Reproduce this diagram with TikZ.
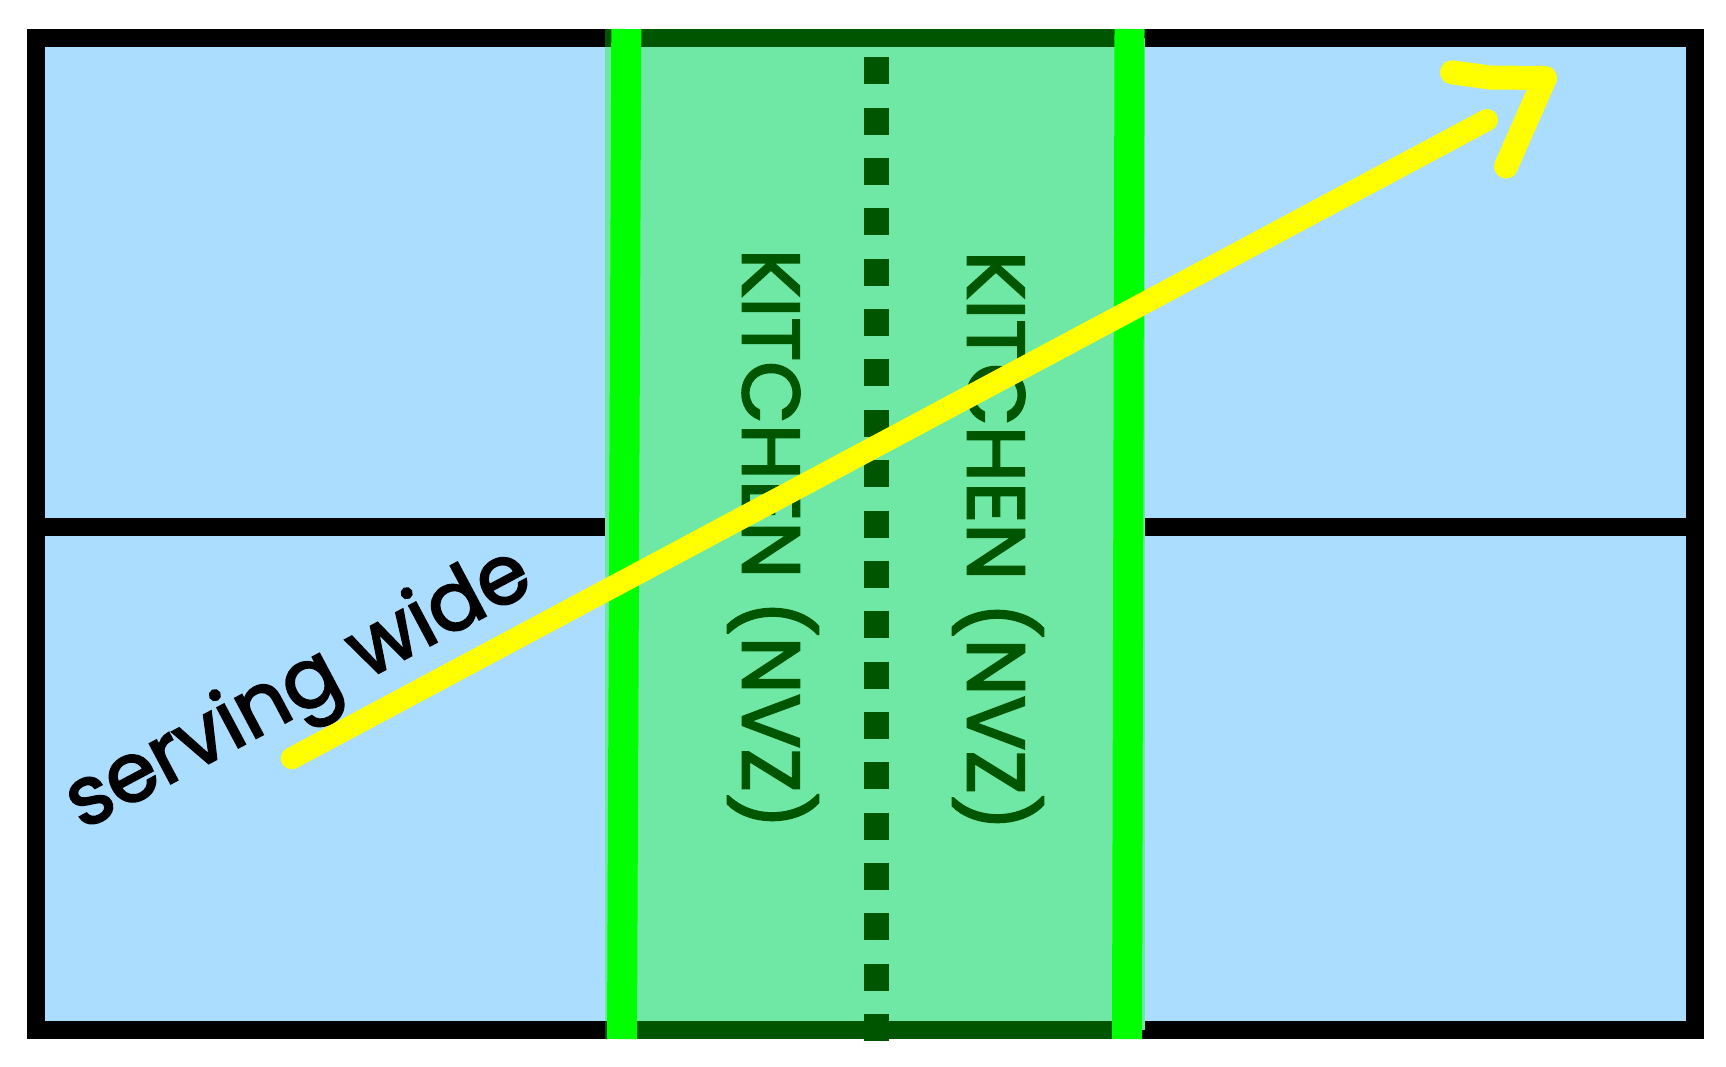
\documentclass[tikz,border=0pt]{standalone}
\usepackage{fontspec}
\setmainfont{Poppins}
\newfontfamily\labelfont{Poppins}[FakeBold=2.5]
\definecolor{courtblue}{RGB}{170,221,255}
\definecolor{kitchenfill}{RGB}{112,232,165}
\definecolor{kitchendark}{RGB}{0,85,0}
\definecolor{kitchenline}{RGB}{0,255,0}
\definecolor{serveyellow}{RGB}{255,255,0}
\tikzset{
  courtline/.style={line width=18pt, draw=black},
  kitchenband/.style={line width=18pt, draw=kitchendark},
  nvzline/.style={line width=30pt, draw=kitchenline},
  centerdash/.style={line width=25pt, draw=kitchendark, dash pattern=on 27pt off 23.35pt, dash phase=22pt},
  kitchentext/.style={text=kitchendark, inner sep=0pt, font=\labelfont\fontsize{81}{81}\selectfont},
  servetext/.style={text=black, inner sep=0pt, font=\labelfont\fontsize{82}{82}\selectfont},
  servearrow/.style={line width=22pt, draw=serveyellow, line cap=round, line join=round},
}
\begin{document}
\begin{tikzpicture}[x=1pt,y=-1pt]
\useasboundingbox (0,0) rectangle (1726,1066);
\fill[white] (0,0) rectangle (1726,1066);
% court
\draw[courtline, fill=courtblue] (36,38) rectangle (1695,1030);
\coordinate (midL) at (36,527);
\coordinate (midR) at (1695,527);
\draw[courtline] (midL) -- (midR);
% kitchen
\fill[kitchenfill] (605,38) rectangle (1145,1030);
\coordinate (dashTop) at (876.7,29);
\coordinate (dashBot) at (876.7,1041);
\draw[centerdash] (dashTop) -- (dashBot);
\coordinate (bandTL) at (605,38);
\coordinate (bandTR) at (1140,38);
\coordinate (bandBL) at (605,1030);
\coordinate (bandBR) at (1140,1030);
\draw[kitchenband] (bandTL) -- (bandTR);
\draw[kitchenband] (bandBL) -- (bandBR);
\coordinate (nvzLT) at (626.3,29);
\coordinate (nvzLB) at (622,1039);
\coordinate (nvzRT) at (1129.5,29);
\coordinate (nvzRB) at (1127,1039);
\draw[nvzline] (nvzLT) -- (nvzLB);
\draw[nvzline] (nvzRT) -- (nvzRB);
% kitchen labels
\node[kitchentext, rotate=-90] (kitchenA) at (773,539) {KITCHEN (NVZ)};
\node[kitchentext, rotate=-90] (kitchenB) at (998,541) {KITCHEN (NVZ)};
% serve
\node[servetext, rotate=28] (serve) at (300,692) {serving wide};
\coordinate (serveStart) at (291.7,758.3);
\coordinate (serveEnd) at (1487,120);
\draw[servearrow] (serveStart) -- (serveEnd);
\coordinate (headA) at (1452,72.3);
\coordinate (headB) at (1490,77.5);
\coordinate (headC) at (1545,78);
\coordinate (headD) at (1506,166.5);
\draw[servearrow, line width=24pt] (headA) -- (headB) -- (headC) -- (headD);
\end{tikzpicture}
\end{document}
